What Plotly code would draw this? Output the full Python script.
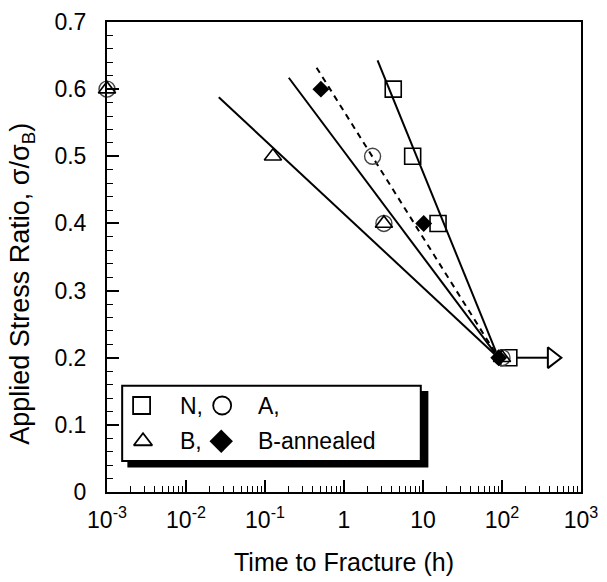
import plotly.graph_objects as go

# ---------------- data ----------------
N_time = [4.2, 7.4, 15.5, 122]
N_ratio = [0.6, 0.5, 0.4, 0.2]
A_time = [0.001, 2.3, 3.2, 100]
A_ratio = [0.6, 0.5, 0.4, 0.2]
B_time = [0.001, 0.126, 3.2, 100]
B_ratio = [0.6, 0.5, 0.4, 0.2]
Ba_time = [0.51, 10.2, 91]
Ba_ratio = [0.6, 0.4, 0.2]

# fitted lines (start, end)
fit_B_time, fit_B_ratio = [0.026, 90], [0.588, 0.2]
fit_A_time, fit_A_ratio = [0.20, 90], [0.617, 0.2]
fit_Ba_time, fit_Ba_ratio = [0.45, 90], [0.632, 0.2]
fit_N_time, fit_N_ratio = [2.66, 90], [0.643, 0.2]

# run-out arrow on the N specimen at 0.2
arrow_time, arrow_ratio = [155, 380], [0.2, 0.2]
arrow_head_time, arrow_head_ratio = [434], [0.2]

x_tickvals = [1e-3, 1e-2, 1e-1, 1, 10, 100, 1000]
x_ticktext = ["10<sup>-3</sup>", "10<sup>-2</sup>", "10<sup>-1</sup>", "1", "10",
              "10<sup>2</sup>", "10<sup>3</sup>"]
y_tickvals = [0, 0.1, 0.2, 0.3, 0.4, 0.5, 0.6, 0.7]
y_ticktext = ["0", "0.1", "0.2", "0.3", "0.4", "0.5", "0.6", "0.7"]

legend_labels = ["N,", "A,", "B,", "B-annealed"]
y_title = "Applied Stress Ratio, σ/σ<sub>B</sub>)"
x_title = "Time to Fracture (h)"

FONT = "Liberation Sans, Arial, sans-serif"
BLACK = "black"

fig = go.Figure()

line_style = dict(color=BLACK, width=2)
fig.add_trace(go.Scatter(x=fit_B_time, y=fit_B_ratio, mode="lines", line=line_style, showlegend=False))
fig.add_trace(go.Scatter(x=fit_A_time, y=fit_A_ratio, mode="lines", line=line_style, showlegend=False))
fig.add_trace(go.Scatter(x=fit_N_time, y=fit_N_ratio, mode="lines", line=line_style, showlegend=False))
fig.add_trace(go.Scatter(x=fit_Ba_time, y=fit_Ba_ratio, mode="lines",
                         line=dict(color=BLACK, width=2, dash="6px,5px"), showlegend=False))

# arrow
fig.add_trace(go.Scatter(x=arrow_time, y=arrow_ratio, mode="lines", line=line_style, showlegend=False))
fig.add_trace(go.Scatter(x=arrow_head_time, y=arrow_head_ratio, mode="markers",
                         marker=dict(symbol="triangle-right", size=18, color="white",
                                     line=dict(color=BLACK, width=2)), showlegend=False))

# data points
fig.add_trace(go.Scatter(x=N_time, y=N_ratio, mode="markers", name="N", cliponaxis=False,
                         marker=dict(symbol="square-open", size=16, color=BLACK, line=dict(width=1.6)),
                         showlegend=False))
fig.add_trace(go.Scatter(x=A_time, y=A_ratio, mode="markers", name="A", cliponaxis=False,
                         marker=dict(symbol="circle-open", size=16, color="#444", line=dict(width=1.4)),
                         showlegend=False))
fig.add_trace(go.Scatter(x=B_time, y=B_ratio, mode="markers", name="B", cliponaxis=False,
                         marker=dict(symbol="triangle-up-open", size=15, color=BLACK, line=dict(width=1.6)),
                         showlegend=False))
fig.add_trace(go.Scatter(x=Ba_time, y=Ba_ratio, mode="markers", name="B-annealed", cliponaxis=False,
                         marker=dict(symbol="diamond", size=13, color=BLACK, line=dict(width=0)),
                         showlegend=False))

# ---------------- hand-drawn legend box ----------------
lx0, lx1, ly0, ly1 = 0.032, 0.662, 0.066, 0.226
fig.add_shape(type="rect", xref="paper", yref="paper", x0=lx0 + 0.011, x1=lx1 + 0.016,
              y0=ly0 - 0.014, y1=ly1 - 0.011, fillcolor=BLACK, line=dict(width=0), layer="below")
fig.add_shape(type="rect", xref="paper", yref="paper", x0=lx0, x1=lx1, y0=ly0, y1=ly1,
              fillcolor="white", line=dict(color=BLACK, width=2), layer="below")

# legend symbols in paper fractions -> data coords
sym_px = [0.073, 0.243, 0.076, 0.241]
sym_py = [0.184, 0.184, 0.108, 0.108]
sym_def = [("square-open", 17, 1.8), ("circle-open", 18, 1.8),
           ("triangle-up-open", 16, 1.8), ("diamond", 18, 0)]
for px, py, (sym, sz, lw) in zip(sym_px, sym_py, sym_def):
    fig.add_trace(go.Scatter(x=[10 ** (-3 + 6 * px)], y=[0.7 * py], mode="markers",
                             marker=dict(symbol=sym, size=sz, color=BLACK, line=dict(width=lw, color=BLACK)),
                             showlegend=False, cliponaxis=False))
txt_px = [0.149, 0.314, 0.149, 0.314]
for label, px, py in zip(legend_labels, txt_px, sym_py):
    fig.add_annotation(x=px, y=py, xref="paper", yref="paper", text=label, showarrow=False,
                       xanchor="left", yanchor="middle", font=dict(family=FONT, size=23, color=BLACK))

# y-axis title (placed as a rotated annotation to match the reference position)
fig.add_annotation(x=0, y=0.443, xref="paper", yref="paper", xshift=-85, text=y_title,
                   textangle=-90, showarrow=False, xanchor="center", yanchor="middle",
                   font=dict(family=FONT, size=27, color=BLACK))

minor_x = [k * 10.0 ** e for e in range(-3, 3) for k in range(2, 10)]

fig.update_layout(
    width=607, height=582,
    margin=dict(l=107, r=22, t=9, b=90),
    paper_bgcolor="white", plot_bgcolor="white",
    font=dict(family=FONT, size=23, color=BLACK),
    showlegend=False,
    xaxis=dict(
        type="log", range=[-3, 3],
        tickmode="array", tickvals=x_tickvals, ticktext=x_ticktext,
        ticks="inside", ticklen=12, tickwidth=1.5, tickcolor=BLACK,
        minor=dict(tickmode="array", tickvals=minor_x, ticks="inside", ticklen=6,
                   tickwidth=1, tickcolor=BLACK, showgrid=False),
        showline=True, linewidth=2, linecolor=BLACK, mirror=True,
        showgrid=False, zeroline=False,
        tickfont=dict(family=FONT, size=23, color=BLACK),
        ticklabelstandoff=6, ticklabeloverflow="allow",
        title=dict(text=x_title, font=dict(family=FONT, size=25, color=BLACK), standoff=22),
    ),
    yaxis=dict(
        range=[0, 0.7],
        tickmode="array", tickvals=y_tickvals, ticktext=y_ticktext,
        ticks="inside", ticklen=12, tickwidth=1.5, tickcolor=BLACK,
        minor=dict(dtick=0.02, ticks="inside", ticklen=6, tickwidth=1, tickcolor=BLACK, showgrid=False),
        showline=True, linewidth=2, linecolor=BLACK, mirror=True,
        showgrid=False, zeroline=False,
        tickfont=dict(family=FONT, size=23, color=BLACK),
        ticklabelstandoff=14, ticklabeloverflow="allow",
    ),
)

fig.write_html("out.html", config={"displayModeBar": False},
               post_script="document.body.style.margin='0';document.body.style.overflow='hidden';")
